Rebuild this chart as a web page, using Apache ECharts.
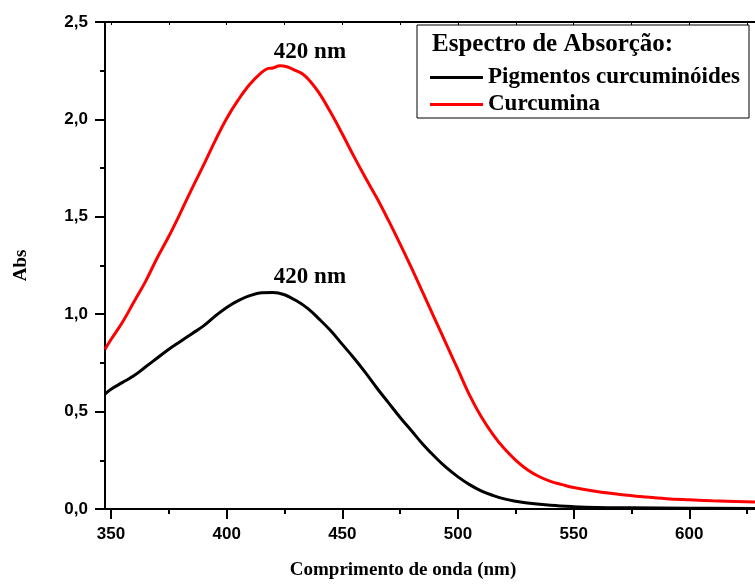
<!DOCTYPE html>
<html>
<head>
<meta charset="utf-8">
<script src="https://cdn.jsdelivr.net/npm/echarts@6/dist/echarts.min.js"></script>
<style>
  html, body { margin: 0; padding: 0; background: #fff; }
  #chart { width: 755px; height: 585px; }
</style>
</head>
<body>
<div id="chart"></div>
<script>
// wavelengths (nm) and absorbance
var pigWave = [347.4, 350, 355, 360, 365, 370, 375, 380, 385, 390, 395, 400, 405, 410, 415, 420, 425, 430, 435, 440, 445, 450, 455, 460, 465, 470, 475, 480, 485, 490, 495, 500, 505, 510, 515, 520, 525, 530, 540, 550, 560, 575, 600, 628.4]
var pigAbs = [0.59, 0.615, 0.65, 0.685, 0.73, 0.775, 0.82, 0.86, 0.9, 0.94, 0.99, 1.035, 1.07, 1.095, 1.11, 1.112, 1.1, 1.07, 1.03, 0.975, 0.915, 0.845, 0.775, 0.7, 0.62, 0.545, 0.47, 0.4, 0.33, 0.268, 0.212, 0.165, 0.125, 0.093, 0.07, 0.052, 0.04, 0.031, 0.019, 0.012, 0.008, 0.006, 0.004, 0.003]

var curWave = [347.4, 350, 355, 360, 365, 370, 375, 380, 385, 390, 395, 400, 405, 410, 415, 418, 420, 423, 426, 430, 433, 436, 440, 445, 450, 455, 460, 465, 470, 475, 480, 485, 490, 495, 500, 505, 510, 515, 520, 525, 530, 535, 540, 545, 550, 560, 570, 580, 590, 600, 610, 628.4]
var curAbs = [0.82, 0.87, 0.96, 1.065, 1.17, 1.29, 1.4, 1.52, 1.645, 1.765, 1.89, 2.005, 2.1, 2.18, 2.24, 2.262, 2.264, 2.275, 2.27, 2.25, 2.232, 2.197, 2.135, 2.035, 1.925, 1.81, 1.7, 1.595, 1.48, 1.36, 1.235, 1.105, 0.975, 0.845, 0.715, 0.585, 0.475, 0.385, 0.31, 0.25, 0.202, 0.167, 0.142, 0.125, 0.11, 0.09, 0.075, 0.063, 0.053, 0.047, 0.042, 0.036]

var majorX = [350, 400, 450, 500, 550, 600]
var minorX = [375, 425, 475, 525, 575, 625]
var peakLabel = '420 nm'
var peakPos = { cur: [436, 2.346], pig: [436, 1.189] }

var seriesNames = ['Pigmentos curcuminóides', 'Curcumina']
var legendTitle = 'Espectro de Absorção:'

function pairs(xs, ys) {
  let out = []
  for (let i = 0; i < xs.length; i++) out.push([xs[i], ys[i]])
  return out
}

var serif = 'Liberation Serif, Times New Roman, serif'
var sans = 'Liberation Sans, Arial, sans-serif'
var xMin = 347.4, xMax = 628.4

function xAxisBase() {
  return {
    type: 'value', min: xMin, max: xMax,
    splitLine: { show: false },
    axisLine: { show: true, onZero: false, lineStyle: { color: '#000', width: 2 } }
  }
}

var chart = echarts.init(document.getElementById('chart'))

let option = {
  animation: false,
  backgroundColor: '#fff',
  grid: { left: 105, right: 0, top: 22, bottom: 75, containLabel: false },
  xAxis: [
    Object.assign(xAxisBase(), {
      position: 'bottom',
      name: 'Comprimento de onda (nm)',
      nameLocation: 'middle',
      nameGap: 52,
      nameTextStyle: { fontFamily: serif, fontWeight: 'bold', fontSize: 19, color: '#000', padding: [0, 54, 0, 0] },
      axisTick: { show: true, length: 10, customValues: majorX, lineStyle: { color: '#000', width: 2 } },
      axisLabel: { show: true, customValues: majorX, margin: 17, fontFamily: sans, fontWeight: 'bold', fontSize: 17, color: '#000' }
    }),
    Object.assign(xAxisBase(), {
      position: 'bottom',
      axisTick: { show: true, length: 5, customValues: minorX, lineStyle: { color: '#000', width: 2 } },
      axisLabel: { show: false }
    }),
    Object.assign(xAxisBase(), {
      position: 'top',
      axisTick: { show: true, inside: true, length: 3, customValues: majorX.concat(minorX), lineStyle: { color: '#000', width: 1 } },
      axisLabel: { show: false }
    })
  ],
  yAxis: {
    type: 'value', min: 0, max: 2.5, interval: 0.5,
    name: 'Abs',
    nameLocation: 'middle',
    nameGap: 74,
    nameRotate: 90,
    nameTextStyle: { fontFamily: serif, fontWeight: 'bold', fontSize: 19, color: '#000' },
    splitLine: { show: false },
    axisLine: { show: true, lineStyle: { color: '#000', width: 2 } },
    axisTick: { show: true, length: 10, lineStyle: { color: '#000', width: 2 } },
    minorTick: { show: true, splitNumber: 2, length: 5, lineStyle: { color: '#000', width: 2 } },
    axisLabel: {
      margin: 17, fontFamily: sans, fontWeight: 'bold', fontSize: 17, color: '#000',
      formatter: function (v) { return v.toFixed(1).replace('.', ',') }
    }
  },
  legend: {
    orient: 'vertical',
    left: 430, top: 66,
    padding: 0,
    itemGap: 4,
    itemWidth: 53, itemHeight: 3,
    z: 10,
    icon: 'rect',
    data: seriesNames,
    textStyle: { fontFamily: serif, fontWeight: 'bold', fontSize: 23, color: '#000', lineHeight: 23, padding: [0, 0, 0, 0] }
  },
  graphic: [
    { type: 'rect', shape: { x: 417, y: 25, width: 332, height: 93 }, style: { fill: '#fff', stroke: '#000', lineWidth: 1 }, z: 3 },
    { type: 'text', x: 432, y: 45, style: { text: legendTitle, font: 'bold 25px ' + serif, fill: '#000', verticalAlign: 'middle' }, z: 11 }
  ],
  series: [
    {
      name: seriesNames[0], type: 'line', showSymbol: false, smooth: 0.4,
      data: pairs(pigWave, pigAbs),
      itemStyle: { color: '#000' },
      lineStyle: { color: '#000', width: 3 },
      markPoint: {
        symbol: 'circle', symbolSize: 0,
        label: { show: true, position: 'inside', formatter: peakLabel, fontFamily: serif, fontWeight: 'bold', fontSize: 23, color: '#000' },
        data: [{ coord: peakPos.pig }]
      }
    },
    {
      name: seriesNames[1], type: 'line', showSymbol: false, smooth: 0.4,
      data: pairs(curWave, curAbs),
      itemStyle: { color: '#ff0000' },
      lineStyle: { color: '#ff0000', width: 3 },
      markPoint: {
        symbol: 'circle', symbolSize: 0,
        label: { show: true, position: 'inside', formatter: peakLabel, fontFamily: serif, fontWeight: 'bold', fontSize: 23, color: '#000' },
        data: [{ coord: peakPos.cur }]
      }
    }
  ]
}

chart.setOption(option)
</script>
</body>
</html>
